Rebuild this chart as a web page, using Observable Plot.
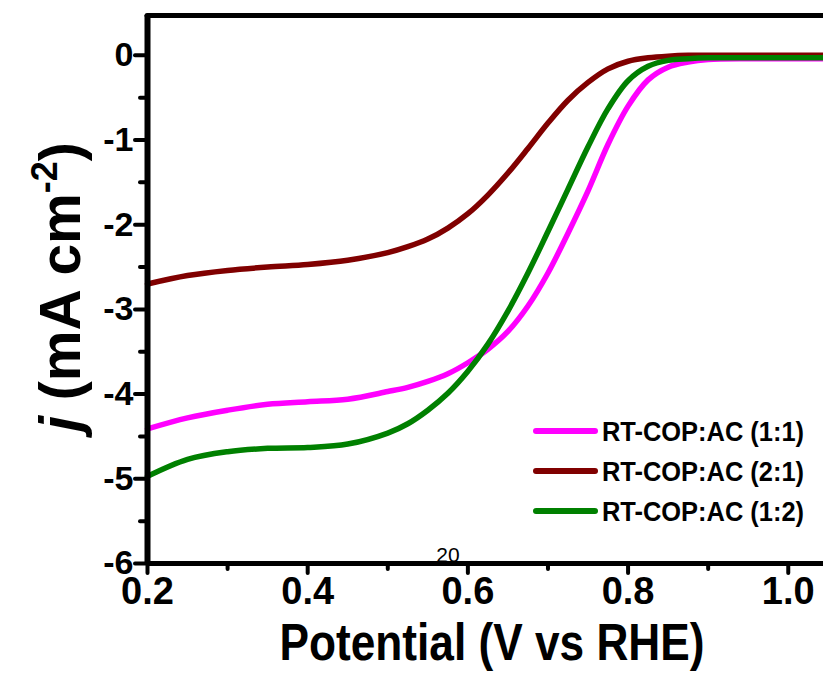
<!DOCTYPE html>
<html><head><meta charset="utf-8">
<script src="https://cdn.jsdelivr.net/npm/d3@7"></script>
<script src="https://cdn.jsdelivr.net/npm/@observablehq/plot@0.6"></script>
<style>html,body{margin:0;padding:0;background:#fff}</style>
</head><body><div id="chart"></div>
<script>
// Data (Potential in V vs RHE, j in mA cm^-2)
const potential = [0.20, 0.25, 0.30, 0.35, 0.40, 0.45, 0.50, 0.525, 0.55, 0.575, 0.60, 0.625, 0.65, 0.675, 0.70, 0.725, 0.75, 0.775, 0.80, 0.825, 0.85, 0.875, 0.90, 0.95, 1.00, 1.044];
const j_1_1 = [-4.41, -4.28, -4.19, -4.12, -4.09, -4.06, -3.97, -3.92, -3.85, -3.76, -3.63, -3.47, -3.26, -2.96, -2.57, -2.10, -1.60, -1.05, -0.60, -0.29, -0.14, -0.08, -0.05, -0.04, -0.04, -0.04];
const j_2_1 = [-2.70, -2.60, -2.54, -2.50, -2.47, -2.42, -2.33, -2.26, -2.17, -2.04, -1.87, -1.65, -1.39, -1.10, -0.80, -0.53, -0.32, -0.16, -0.07, -0.03, -0.01, 0.0, 0.0, 0.0, 0.0, 0.0];
const j_1_2 = [-4.97, -4.77, -4.68, -4.64, -4.63, -4.59, -4.46, -4.35, -4.19, -3.99, -3.73, -3.41, -3.02, -2.57, -2.08, -1.58, -1.08, -0.63, -0.30, -0.13, -0.06, -0.04, -0.03, -0.03, -0.03, -0.03];
const seriesNames = ["RT-COP:AC (1:1)", "RT-COP:AC (2:1)", "RT-COP:AC (1:2)"];
const seriesColors = ["#ff00ff", "#800000", "#008000"];
const yTicks = [0, -1, -2, -3, -4, -5, -6];
const yMinor = [-0.5, -1.5, -2.5, -3.5, -4.5, -5.5];
const xTicks = [0.2, 0.4, 0.6, 0.8, 1.0];
const xMinor = [0.3, 0.5, 0.7, 0.9];
const xLabel = "Potential (V vs RHE)";
const strayText = "20";

const seriesValues = [j_1_1, j_2_1, j_1_2];
const rows = seriesValues.map((vals, i) => potential.map((V, k) => ({V, j: vals[k], s: seriesNames[i]})));
const drawOrder = [1, 0, 2];

const narrow = "'Liberation Sans Narrow', 'Arial Narrow', 'Liberation Sans', sans-serif";

const chart = Plot.plot({
  width: 823, height: 673,
  marginLeft: 147, marginRight: 0, marginTop: 15, marginBottom: 110,
  x: {domain: [0.2, 1.044]},
  y: {domain: [-6, 0.47]},
  style: {background: "white", fontFamily: "'Liberation Sans', Arial, sans-serif", overflow: "visible", color: "black"},
  marks: [
    ...drawOrder.map(i => Plot.line(rows[i], {x: "V", y: "j", stroke: seriesColors[i], strokeWidth: 5.5, curve: "catmull-rom"})),
    Plot.ruleX([0.2], {strokeWidth: 6}),
    Plot.ruleY([-6], {strokeWidth: 5}),
    Plot.ruleY([0.47], {strokeWidth: 5, strokeLinecap: "round"}),
    Plot.axisY({ticks: yTicks, tickSize: 12, strokeWidth: 4, strokeLinecap: "round", tickPadding: 2, tickFormat: d => String(d), fontSize: 34, fontWeight: "bold", label: null}),
    Plot.axisY({ticks: yMinor, tickSize: 7, strokeWidth: 4, strokeLinecap: "round", tickFormat: () => "", label: null}),
    Plot.axisX({ticks: xTicks, tickSize: 10, strokeWidth: 4, strokeLinecap: "round", tickPadding: 4, tickFormat: d3.format(".1f"), fontSize: 38, fontWeight: "bold", fontFamily: narrow, label: null}),
    Plot.axisX({ticks: xMinor, tickSize: 6, strokeWidth: 4, strokeLinecap: "round", tickFormat: () => "", label: null})
  ]
});
document.getElementById("chart").appendChild(chart);

const svg = d3.select(chart);
// stray text
svg.append("text").attr("x", 448).attr("y", 562).attr("text-anchor", "middle")
  .attr("font-family", narrow).attr("font-size", 21).text(strayText);

// y label
const yl = svg.append("text").attr("transform", "translate(80,287) rotate(-90)")
  .attr("text-anchor", "middle").attr("font-family", "'Liberation Sans', Arial, sans-serif")
  .attr("font-weight", "bold").attr("font-size", 57);
yl.append("tspan").attr("font-style", "italic").text("j");
yl.append("tspan").text(" (mA cm");
yl.append("tspan").attr("font-size", 36).attr("dy", -23).text("-2");
yl.append("tspan").attr("dy", 23).text(")");

// x label
svg.append("text").attr("x", 492).attr("y", 660).attr("text-anchor", "middle")
  .attr("font-family", narrow).attr("font-weight", "bold").attr("font-size", 52)
  .attr("textLength", 425).attr("lengthAdjust", "spacingAndGlyphs").text(xLabel);

// legend
const legendY = [431, 471, 511];
seriesNames.forEach((name, i) => {
  svg.append("line").attr("x1", 536).attr("x2", 595).attr("y1", legendY[i]).attr("y2", legendY[i])
    .attr("stroke", seriesColors[i]).attr("stroke-width", 6).attr("stroke-linecap", "round");
  svg.append("text").attr("x", 602).attr("y", legendY[i] + 10).attr("text-anchor", "start").attr("font-family", narrow)
    .attr("font-weight", "bold").attr("font-size", 27.5).attr("textLength", 202).attr("lengthAdjust", "spacingAndGlyphs").text(name);
});
</script></body></html>
